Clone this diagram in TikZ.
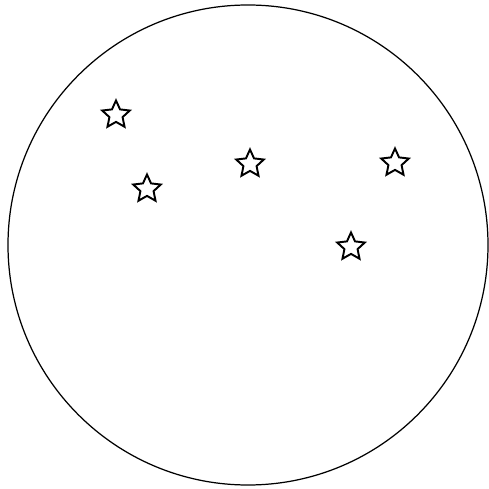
\documentclass[tikz,border=0pt]{standalone}
\usepackage{tikz}
\usetikzlibrary{shapes.geometric}

\begin{document}
\begin{tikzpicture}[
    sky/.style={draw=black,line width=0.7pt},
    starmark/.style={star,star points=5,star point ratio=2.1,draw=black,line width=1.1pt,
      fill=white,minimum size=0.58cm,inner sep=0pt}
  ]
    \useasboundingbox (0,0) rectangle (9.78,9.78);
    \node[sky,circle,minimum size=9.6cm,inner sep=0pt] (dome) at (4.96,4.88) {};

    \node[starmark] (s1) at (2.32,7.48) {};
    \node[starmark] (s2) at (2.94,6.00) {};
    \node[starmark] (s3) at (5.00,6.50) {};
    \node[starmark] (s4) at (7.90,6.52) {};
    \node[starmark] (s5) at (7.02,4.84) {};
  \end{tikzpicture}
\end{document}
